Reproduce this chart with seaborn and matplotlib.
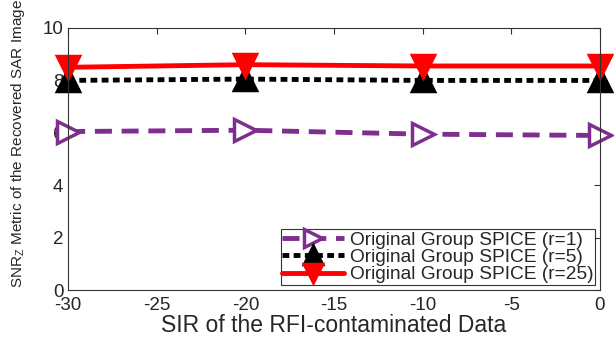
import numpy as np
import pandas as pd
import matplotlib
matplotlib.use("Agg")
import matplotlib.pyplot as plt
import seaborn as sns

sir = [-30, -20, -10, 0]
snr_r1 = [6.05, 6.1, 5.95, 5.9]
snr_r5 = [8.0, 8.05, 8.0, 8.0]
snr_r25 = [8.5, 8.6, 8.55, 8.55]
names = ["Original Group SPICE (r=1)", "Original Group SPICE (r=5)", "Original Group SPICE (r=25)"]

df = pd.DataFrame({
    "sir": sir * 3,
    "snr": snr_r1 + snr_r5 + snr_r25,
    "method": [names[0]] * 4 + [names[1]] * 4 + [names[2]] * 4,
})

sns.set_style("white")
plt.rcParams["font.family"] = ["Liberation Sans", "DejaVu Sans"]
plt.rcParams["axes.unicode_minus"] = False
plt.rcParams["mathtext.fontset"] = "custom"
plt.rcParams["mathtext.rm"] = "Liberation Sans"
plt.rcParams["mathtext.it"] = "Liberation Sans"

fig, ax = plt.subplots(figsize=(6.14, 3.37), dpi=100)
colors = {names[0]: "#7E2F8E", names[1]: "black", names[2]: "red"}
styles = [(0, (3.5, 2)), (0, (1.4, 0.9)), "-"]
markers = [">", "^", "v"]
for name, ls, mk in zip(names, styles, markers):
    sub = df[df["method"] == name]
    face = "white" if mk == ">" else colors[name]
    sns.lineplot(data=sub, x="sir", y="snr", ax=ax, color=colors[name], linestyle=ls,
                 linewidth=3.5, marker=mk, markersize=16, markerfacecolor=face,
                 markeredgecolor=colors[name], markeredgewidth=2.5, label=name,
                 clip_on=False, legend=False)

ax.set_xlim(-30, 0)
ax.set_ylim(0, 10)
ax.set_xticks(np.arange(-30, 1, 5))
ax.set_yticks(np.arange(0, 11, 2))
ax.tick_params(direction="in", top=True, right=True, labelsize=13.5, length=4, color="#333333")
ax.tick_params(axis="x", pad=5)
for s in ax.spines.values():
    s.set_color("#333333")
    s.set_linewidth(0.8)
ax.set_xlabel("SIR of the RFI-contaminated Data", fontsize=16.5, labelpad=0)
ax.set_ylabel("SNR$_{\\mathregular{Z}}$ Metric of the Recovered SAR Image", fontsize=11)
ax.yaxis.set_label_coords(-0.078, 0.56)
handles = ax.get_lines()
leg = ax.legend(handles, names, loc="lower right", fontsize=13.8, frameon=True, fancybox=False,
                borderpad=0.1, labelspacing=0.0, handlelength=3.2, handletextpad=0.3,
                borderaxespad=0.25, numpoints=1, markerscale=0.85)
leg.get_frame().set_edgecolor("black")
leg.get_frame().set_linewidth(0.8)
leg.set_zorder(5)

fig.subplots_adjust(left=0.111, right=0.977, top=0.917, bottom=0.139)
fig.savefig("out.png", dpi=100)
